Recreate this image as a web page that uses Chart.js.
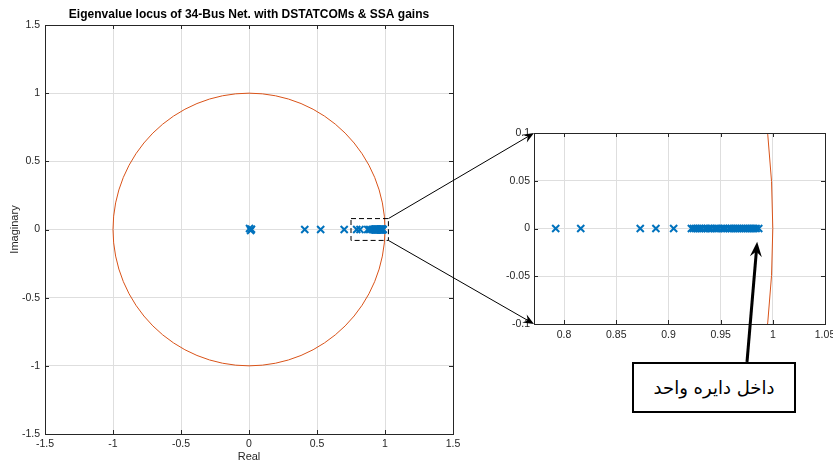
<!DOCTYPE html>
<html>
<head>
<meta charset="utf-8">
<script src="https://cdn.jsdelivr.net/npm/chart.js@4.4.1/dist/chart.umd.min.js"></script>
<style>
  body { margin: 0; background: #fff; width: 833px; height: 462px; position: relative; overflow: hidden; }
  #mainChart { position: absolute; left: 0; top: 0; }
  #zoomChart { position: absolute; left: 490px; top: 120px; }
  #overlay { position: absolute; left: 0; top: 0; pointer-events: none; }
  #note {
    position: absolute; left: 632px; top: 362px; width: 164px; height: 51px;
    box-sizing: border-box; border: 2px solid #000; background: #fff;
    display: flex; align-items: center; justify-content: center;
    font-family: 'DejaVu Serif', 'DejaVu Sans', serif; font-size: 18px; color: #000;
  }
</style>
</head>
<body>
<canvas id="mainChart" width="470" height="466"></canvas>
<canvas id="zoomChart" width="360" height="230"></canvas>
<canvas id="overlay" width="833" height="462"></canvas>
<div id="note" dir="rtl">داخل دایره واحد</div>
<script>
// eigenvalues (real / imaginary parts)
const realParts = [0.004, 0.012, 0.018, 0.41, 0.527, 0.70, 0.792, 0.816, 0.873, 0.888, 0.905,
  0.922, 0.924, 0.926, 0.928, 0.930, 0.932, 0.935, 0.937, 0.939, 0.941, 0.944, 0.946, 0.948,
  0.951, 0.953, 0.955, 0.958, 0.960, 0.962, 0.964, 0.966, 0.968, 0.970, 0.972, 0.974, 0.976,
  0.978, 0.980, 0.982, 0.984, 0.9865];
const imagParts = [0.007, -0.007, 0.002, 0, 0, 0, 0, 0, 0, 0, 0,
  0, 0, 0, 0, 0, 0, 0, 0, 0, 0, 0, 0, 0,
  0, 0, 0, 0, 0, 0, 0, 0, 0, 0, 0, 0, 0,
  0, 0, 0, 0, 0];

const unitRadius = 1;
const mainTicks = [-1.5, -1, -0.5, 0, 0.5, 1, 1.5];
const zoomXTicks = [0.8, 0.85, 0.9, 0.95, 1, 1.05];
const zoomYTicks = [-0.1, -0.05, 0, 0.05, 0.1];
const zoomXRange = [0.7712, 1.05];
const zoomYRange = [-0.1, 0.1];
const zoomBoxX = [0.75, 1.025];   // dashed box on the main plot
const zoomBoxY = [-0.08, 0.08];
const noteTarget = [0.985, -0.014];

const points = realParts.map((re, i) => ({ x: re, y: imagParts[i] }));

const markColor = '#0072BD';
const circleColor = '#D95319';
const axisColor = '#262626';
const gridColor = '#dedede';
const fontFamily = "'Liberation Sans', Arial, sans-serif";

// unit circle, box, inward tick marks
const framePlugin = {
  id: 'frame',
  beforeDatasetsDraw(chart) {
    const { ctx, chartArea: a, scales: { x, y } } = chart;
    ctx.save();
    ctx.beginPath();
    ctx.rect(a.left, a.top, a.width, a.height);
    ctx.clip();
    const cx = x.getPixelForValue(0), cy = y.getPixelForValue(0);
    const rx = x.getPixelForValue(unitRadius) - cx;
    const ry = cy - y.getPixelForValue(unitRadius);
    ctx.strokeStyle = circleColor;
    ctx.lineWidth = 1;
    ctx.beginPath();
    ctx.ellipse(cx, cy, rx, ry, 0, 0, 2 * Math.PI);
    ctx.stroke();
    ctx.restore();
  },
  afterDatasetsDraw(chart, args, opts) {
    const { ctx, chartArea: a, scales: { x, y } } = chart;
    ctx.save();
    ctx.strokeStyle = axisColor;
    ctx.lineWidth = 1;
    ctx.beginPath();
    x.ticks.forEach(t => {
      const px = Math.round(x.getPixelForValue(t.value)) + 0.5;
      ctx.moveTo(px, a.bottom); ctx.lineTo(px, a.bottom - 4);
      ctx.moveTo(px, a.top); ctx.lineTo(px, a.top + 4);
    });
    y.ticks.forEach(t => {
      const py = Math.round(y.getPixelForValue(t.value)) + 0.5;
      ctx.moveTo(a.left, py); ctx.lineTo(a.left + 4, py);
      ctx.moveTo(a.right, py); ctx.lineTo(a.right - 4, py);
    });
    ctx.stroke();
    ctx.strokeRect(Math.round(a.left) + 0.5, Math.round(a.top) + 0.5,
      Math.round(a.width), Math.round(a.height));
    if (opts && opts.box) {
      const [x0, x1] = opts.box[0], [y0, y1] = opts.box[1];
      ctx.strokeStyle = '#000';
      ctx.setLineDash([5, 3]);
      ctx.strokeRect(x.getPixelForValue(x0), y.getPixelForValue(y1),
        x.getPixelForValue(x1) - x.getPixelForValue(x0),
        y.getPixelForValue(y0) - y.getPixelForValue(y1));
    }
    ctx.restore();
  }
};

function scaleOpts(min, max, tickList, pad, fixSize, horizontal) {
  return {
    type: 'linear', min, max,
    border: { display: false },
    grid: { color: gridColor, drawTicks: false, lineWidth: 1 },
    ticks: {
      color: axisColor, padding: pad, font: { family: fontFamily, size: 10.5 },
      autoSkip: false, maxRotation: 0,
      callback: v => String(v)
    },
    afterBuildTicks: s => { s.ticks = tickList.map(v => ({ value: v })); },
    afterFit: s => { if (horizontal) s.height = fixSize; else s.width = fixSize; }
  };
}

const mainX = scaleOpts(-1.5, 1.5, mainTicks, 4, 32, true);
mainX.title = { display: true, text: 'Real', color: axisColor, font: { family: fontFamily, size: 11 }, padding: { top: 0, bottom: 2 } };
const mainY = scaleOpts(-1.5, 1.5, mainTicks, 5, 45, false);
mainY.title = { display: true, text: 'Imaginary', color: axisColor, font: { family: fontFamily, size: 11 }, padding: { top: 8.4, bottom: 0 } };

const markStyle = {
  pointStyle: 'crossRot', radius: 5, borderWidth: 2,
  borderColor: markColor, backgroundColor: markColor
};

const mainChart = new Chart(document.getElementById('mainChart'), {
  type: 'scatter',
  data: { datasets: [{ data: points, ...markStyle }] },
  options: {
    responsive: false, animation: false,
    layout: { padding: { left: 0, right: 17, top: 0, bottom: 0 } },
    scales: { x: mainX, y: mainY },
    plugins: {
      legend: { display: false },
      tooltip: { enabled: false },
      title: {
        display: true, fullSize: false,
        text: 'Eigenvalue locus of 34-Bus Net. with DSTATCOMs & SSA gains',
        color: '#000', font: { family: fontFamily, size: 12, weight: 'bold' },
        padding: { top: 7.5, bottom: 3.1 }
      },
      frame: { box: [zoomBoxX, zoomBoxY] }
    }
  },
  plugins: [framePlugin]
});

const zoomChart = new Chart(document.getElementById('zoomChart'), {
  type: 'scatter',
  data: { datasets: [{ data: points, ...markStyle }] },
  options: {
    responsive: false, animation: false,
    layout: { padding: { left: 0, right: 25, top: 13, bottom: 0 } },
    scales: {
      x: scaleOpts(zoomXRange[0], zoomXRange[1], zoomXTicks, 5, 26, true),
      y: scaleOpts(zoomYRange[0], zoomYRange[1], zoomYTicks, 4, 44, false)
    },
    plugins: { legend: { display: false }, tooltip: { enabled: false }, frame: {} }
  },
  plugins: [framePlugin]
});

// arrows linking the dashed box to the zoomed view, and the note arrow
function drawArrow(ctx, x1, y1, x2, y2, width, headLen, headWidth) {
  const ang = Math.atan2(y2 - y1, x2 - x1);
  const c = Math.cos(ang), s = Math.sin(ang);
  ctx.lineWidth = width;
  ctx.beginPath();
  ctx.moveTo(x1, y1);
  ctx.lineTo(x2 - c * headLen * 0.6, y2 - s * headLen * 0.6);
  ctx.stroke();
  ctx.beginPath();
  ctx.moveTo(x2, y2);
  ctx.lineTo(x2 - c * headLen - s * headWidth / 2, y2 - s * headLen + c * headWidth / 2);
  ctx.lineTo(x2 - c * headLen * 0.65, y2 - s * headLen * 0.65);
  ctx.lineTo(x2 - c * headLen + s * headWidth / 2, y2 - s * headLen - c * headWidth / 2);
  ctx.closePath();
  ctx.fill();
}

const ov = document.getElementById('overlay').getContext('2d');
const zoomOff = { left: 490, top: 120 };
const mx = mainChart.scales.x, my = mainChart.scales.y;
const za = zoomChart.chartArea;
ov.strokeStyle = '#000';
ov.fillStyle = '#000';
drawArrow(ov, mx.getPixelForValue(zoomBoxX[1]), my.getPixelForValue(zoomBoxY[1]),
  zoomOff.left + za.left, zoomOff.top + za.top, 1, 11, 9);
drawArrow(ov, mx.getPixelForValue(zoomBoxX[1]), my.getPixelForValue(zoomBoxY[0]),
  zoomOff.left + za.left, zoomOff.top + za.bottom, 1, 11, 9);
const note = document.getElementById('note');
drawArrow(ov, note.offsetLeft + 115, note.offsetTop,
  zoomOff.left + zoomChart.scales.x.getPixelForValue(noteTarget[0]),
  zoomOff.top + zoomChart.scales.y.getPixelForValue(noteTarget[1]), 3, 15, 12);
</script>
</body>
</html>
